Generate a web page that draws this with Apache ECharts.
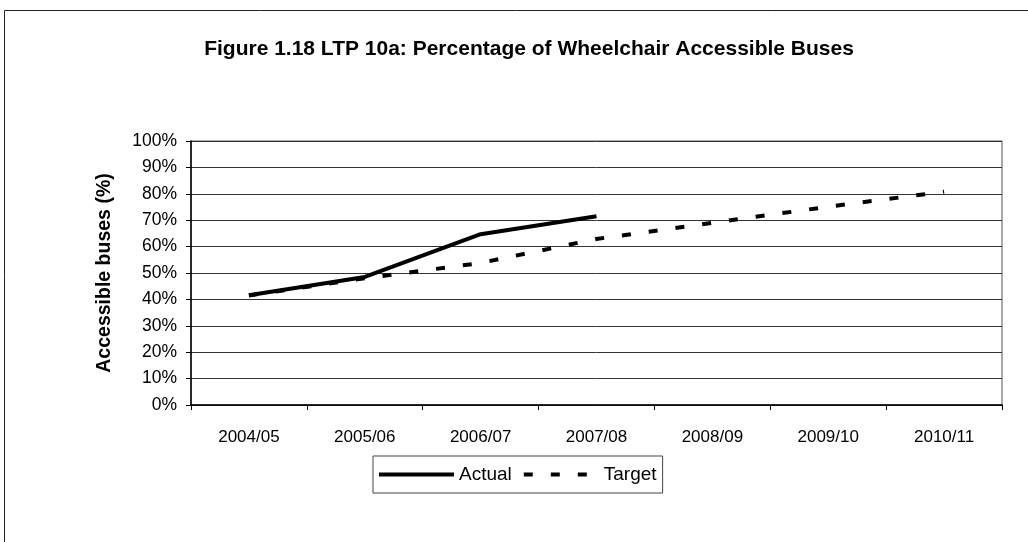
<!DOCTYPE html>
<html lang="en">
    <head>
        <meta charset="utf-8">
        <title>Wheelchair Accessible Buses</title>
        <style>
            html, body { margin: 0; padding: 0; background: #fff; }
            #chart { width: 1028px; height: 542px; }
        </style>
    </head>
    <body>
        <div id="chart"></div>
        <script src="https://cdn.jsdelivr.net/npm/echarts@6/dist/echarts.min.js"></script>
        <script type="text/javascript">
            // data
            var years = ['2004/05', '2005/06', '2006/07', '2007/08', '2008/09', '2009/10', '2010/11'];
            var actual = [41.6, 48.5, 64.7, 71.5, null, null, null];
            var target = [41.5, 48.0, 53.8, 62.9, 69.0, 75.1, 80.8];

            var myChart = echarts.init(document.getElementById('chart'));
            var font = 'Liberation Sans, Arial, sans-serif';

            var option = {
                animation: false,
                backgroundColor: '#fff',
                // outer frame of the chart area (only top and left edges visible)
                graphic: [{
                    type: 'rect',
                    shape: { x: 4.5, y: 10.5, width: 1100, height: 600 },
                    style: { fill: 'none', stroke: '#222', lineWidth: 1 },
                    silent: true
                }],
                title: {
                    text: 'Figure 1.18 LTP 10a: Percentage of Wheelchair Accessible Buses',
                    left: 524,
                    textAlign: 'center',
                    top: 34,
                    textStyle: {
                        fontFamily: font,
                        fontWeight: 'bold',
                        fontSize: 21,
                        color: '#000'
                    }
                },
                legend: {
                    left: 373,
                    top: 456,
                    itemWidth: 75,
                    itemHeight: 14,
                    itemGap: 10,
                    padding: [9, 6, 9, 4],
                    borderColor: '#444',
                    borderWidth: 1,
                    itemStyle: { opacity: 0 },
                    lineStyle: { width: 4 },
                    textStyle: { fontFamily: font, fontSize: 19, color: '#000' },
                    data: ['Actual', 'Target']
                },
                grid: {
                    left: 191,
                    right: 26,
                    top: 141,
                    bottom: 137,
                    show: true,
                    borderColor: '#555',
                    borderWidth: 1,
                    containLabel: false
                },
                xAxis: {
                    type: 'category',
                    data: years,
                    boundaryGap: true,
                    axisLine: { lineStyle: { color: '#000', width: 1.5 } },
                    axisTick: { show: true, length: 5, lineStyle: { color: '#000' } },
                    axisLabel: {
                        margin: 24,
                        fontFamily: font,
                        fontSize: 17,
                        color: '#000'
                    },
                    splitLine: { show: false }
                },
                yAxis: {
                    type: 'value',
                    min: 0,
                    max: 100,
                    interval: 10,
                    name: 'Accessible buses (%)',
                    nameLocation: 'middle',
                    nameGap: 76,
                    nameTextStyle: {
                        fontFamily: font,
                        fontWeight: 'bold',
                        fontSize: 19.5,
                        color: '#000'
                    },
                    axisLine: { show: true, lineStyle: { color: '#000', width: 1.5 } },
                    axisTick: { show: true, length: 5, lineStyle: { color: '#000' } },
                    axisLabel: {
                        margin: 14,
                        fontFamily: font,
                        fontSize: 17.5,
                        color: '#000',
                        formatter: '{value}%'
                    },
                    splitLine: { show: true, lineStyle: { color: '#333', width: 1 } }
                },
                series: [{
                    name: 'Actual',
                    type: 'line',
                    data: actual,
                    symbol: 'none',
                    lineStyle: { color: '#000', width: 4 },
                    itemStyle: { color: '#000' }
                }, {
                    name: 'Target',
                    type: 'line',
                    data: target,
                    symbol: 'none',
                    lineStyle: { color: '#000', width: 4, type: [9, 18] },
                    itemStyle: { color: '#000' }
                }]
            };
            myChart.setOption(option);
        </script>
    </body>
</html>
